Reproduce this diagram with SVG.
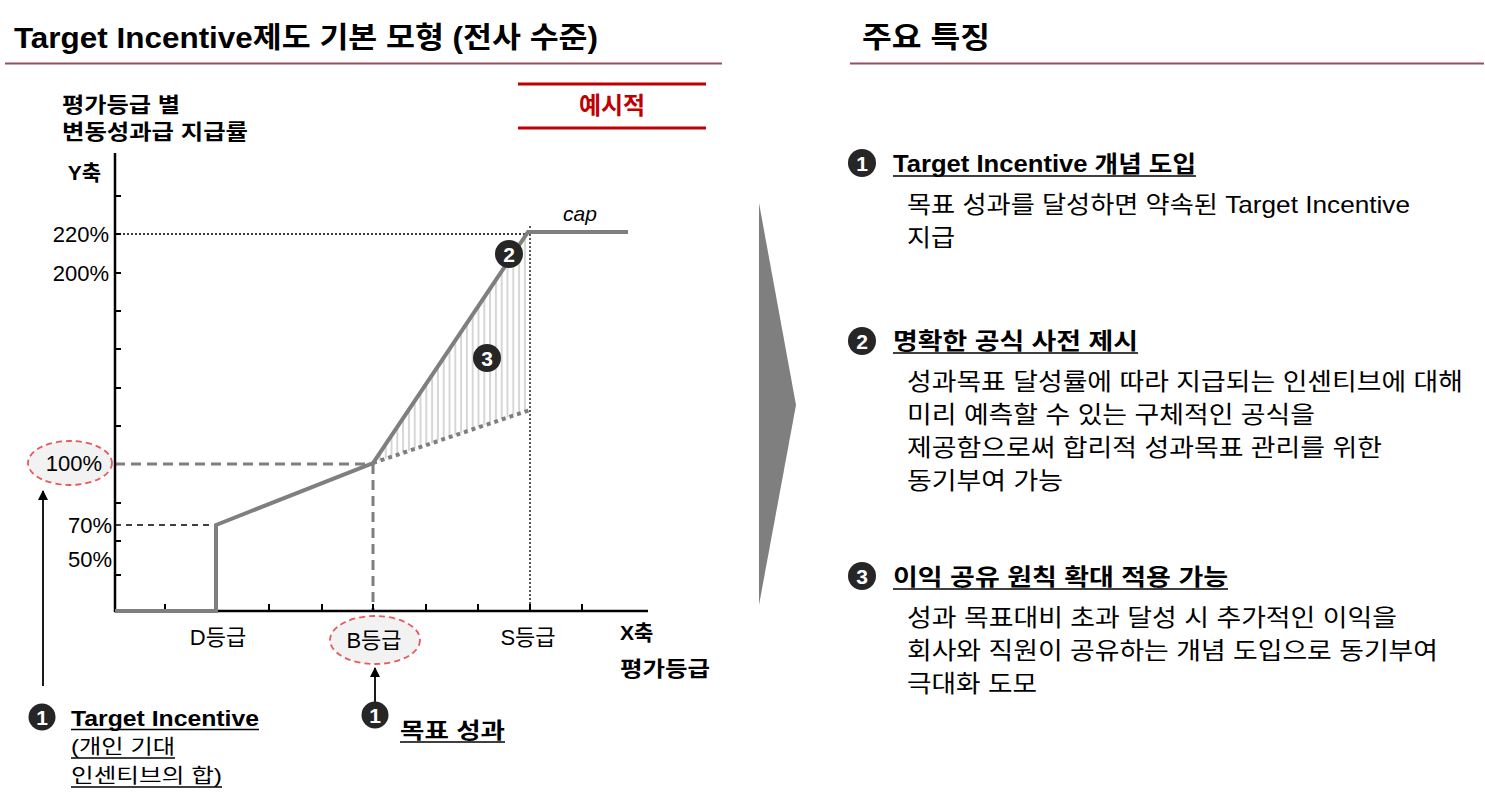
<svg xmlns="http://www.w3.org/2000/svg" width="1485" height="804" viewBox="0 0 1485 804">
<style>
text{font-family:"Liberation Sans","Noto Sans CJK KR",sans-serif;fill:#000}
.b{font-weight:bold}
.ttl{font-size:29px;font-weight:bold}
.lab{font-size:22px}
.hd{font-size:23px;font-weight:bold}
.bd{font-size:24px}
.num{font-size:21px;font-weight:bold;fill:#fff;text-anchor:middle}
.axis{stroke:#000;stroke-width:2.5;fill:none}
.tick{stroke:#000;stroke-width:2}
.curve{stroke:#7f7f7f;stroke-width:4;fill:none;stroke-linejoin:miter}
.ul{stroke:#000;stroke-width:1.5}
</style>
<defs>
<marker id="ah" viewBox="0 0 10 10" refX="9" refY="5" markerWidth="10" markerHeight="10" markerUnits="userSpaceOnUse" orient="auto">
<path d="M0,0 L10,5 L0,10 z" fill="#000"/>
</marker>
<pattern id="hatch" width="5.8" height="10" patternUnits="userSpaceOnUse">
<line x1="2.9" y1="0" x2="2.9" y2="10" stroke="#d6d6d6" stroke-width="2"/>
</pattern>
</defs>

<g id="titles">
<text class="ttl" x="14" y="48" textLength="584" lengthAdjust="spacingAndGlyphs">Target Incentive제도 기본 모형 (전사 수준)</text>
<line x1="5" y1="63.5" x2="722" y2="63.5" stroke="#94505f" stroke-width="2"/>
<text class="ttl" x="862" y="48" textLength="128" lengthAdjust="spacingAndGlyphs">주요 특징</text>
<line x1="850" y1="63.5" x2="1484" y2="63.5" stroke="#94505f" stroke-width="2"/>
</g>

<g id="example-tag">
<line x1="518" y1="84" x2="706" y2="84" stroke="#c00000" stroke-width="3"/>
<line x1="518" y1="128" x2="706" y2="128" stroke="#c00000" stroke-width="3"/>
<text x="612" y="114" text-anchor="middle" style="font-size:24px;font-weight:bold;fill:#c00000">예시적</text>
</g>

<g id="y-title">
<text class="b" x="62" y="112" style="font-size:21px" textLength="118" lengthAdjust="spacingAndGlyphs">평가등급 별</text>
<text class="b" x="62" y="139" style="font-size:21px" textLength="186" lengthAdjust="spacingAndGlyphs">변동성과급 지급률</text>
<text class="b" x="101" y="180" text-anchor="end" style="font-size:21px">Y축</text>
</g>

<g id="hatch-area">
<polygon points="373,463 528,232 530,232 530,410" fill="url(#hatch)"/>
</g>

<g id="guides">
<line x1="115" y1="234" x2="528" y2="234" stroke="#000" stroke-width="1.3" stroke-dasharray="2,2"/>
<line x1="530" y1="226" x2="530" y2="611" stroke="#000" stroke-width="1.3" stroke-dasharray="2,2"/>
<line x1="115" y1="464" x2="373" y2="464" stroke="#7f7f7f" stroke-width="3" stroke-dasharray="10,6"/>
<line x1="373" y1="464" x2="373" y2="611" stroke="#7f7f7f" stroke-width="3" stroke-dasharray="10,6"/>
<line x1="115" y1="525" x2="216" y2="525" stroke="#000" stroke-width="1.6" stroke-dasharray="6,5"/>
<line x1="373" y1="463" x2="530" y2="410" stroke="#7f7f7f" stroke-width="4" stroke-dasharray="4,4"/>
</g>

<g id="axes">
<line class="axis" x1="115" y1="153" x2="115" y2="612"/>
<line class="axis" x1="114" y1="611" x2="648" y2="611"/>
<g class="tick">
<line x1="115" y1="196" x2="121" y2="196"/>
<line x1="115" y1="234" x2="121" y2="234"/>
<line x1="115" y1="273" x2="121" y2="273"/>
<line x1="115" y1="311" x2="121" y2="311"/>
<line x1="115" y1="349" x2="121" y2="349"/>
<line x1="115" y1="388" x2="121" y2="388"/>
<line x1="115" y1="426" x2="121" y2="426"/>
<line x1="115" y1="503" x2="121" y2="503"/>
<line x1="115" y1="541" x2="121" y2="541"/>
<line x1="115" y1="575" x2="121" y2="575"/>
<line x1="165" y1="611" x2="165" y2="604"/>
<line x1="217" y1="611" x2="217" y2="604"/>
<line x1="269" y1="611" x2="269" y2="604"/>
<line x1="322" y1="611" x2="322" y2="604"/>
<line x1="373" y1="611" x2="373" y2="604"/>
<line x1="426" y1="611" x2="426" y2="604"/>
<line x1="478" y1="611" x2="478" y2="604"/>
<line x1="530" y1="611" x2="530" y2="604"/>
<line x1="582" y1="611" x2="582" y2="604"/>
</g>
</g>

<g id="curve">
<polyline class="curve" points="115,611 216,611 216,525 373,463 528,232 628,232"/>
<text x="580" y="221" text-anchor="middle" style="font-size:21px;font-style:italic">cap</text>
</g>

<g id="y-labels">
<text class="lab" x="109" y="242" text-anchor="end">220%</text>
<text class="lab" x="109" y="281" text-anchor="end">200%</text>
<ellipse cx="70" cy="463" rx="42" ry="22" fill="#f2f2f2" stroke="#e8595c" stroke-width="1.8" stroke-dasharray="6,4"/>
<text class="lab" x="102" y="471" text-anchor="end">100%</text>
<text class="lab" x="112" y="533" text-anchor="end">70%</text>
<text class="lab" x="112" y="567" text-anchor="end">50%</text>
</g>

<g id="x-labels">
<text class="lab" x="218" y="645" text-anchor="middle">D등급</text>
<ellipse cx="375" cy="640" rx="45" ry="24" fill="#f2f2f2" stroke="#e8595c" stroke-width="1.8" stroke-dasharray="6,4"/>
<text class="lab" x="374" y="648" text-anchor="middle">B등급</text>
<text class="lab" x="528" y="645" text-anchor="middle">S등급</text>
<text class="b" x="620" y="640" style="font-size:21px">X축</text>
<text class="b" x="620" y="676" style="font-size:21px" textLength="90" lengthAdjust="spacingAndGlyphs">평가등급</text>
</g>

<g id="markers-chart">
<circle cx="509" cy="254" r="14" fill="#262626"/>
<text class="num" x="509" y="261.5">2</text>
<circle cx="487" cy="358" r="14" fill="#262626"/>
<text class="num" x="487" y="365.5">3</text>
</g>

<g id="connectors">
<line x1="43" y1="686" x2="43" y2="491" stroke="#000" stroke-width="1.8" marker-end="url(#ah)"/>
<line x1="375" y1="702" x2="375" y2="668" stroke="#000" stroke-width="1.8" marker-end="url(#ah)"/>
</g>

<g id="note-target-incentive">
<circle cx="42" cy="717" r="13.5" fill="#262626"/>
<text class="num" x="42" y="724.5">1</text>
<text class="b" x="71" y="726" style="font-size:22px" textLength="188" lengthAdjust="spacingAndGlyphs">Target Incentive</text>
<line class="ul" x1="71" y1="729.5" x2="259" y2="729.5"/>
<text x="71" y="754" style="font-size:20px" textLength="104" lengthAdjust="spacingAndGlyphs">(개인 기대</text>
<line class="ul" x1="71" y1="758" x2="175" y2="758"/>
<text x="71" y="783" style="font-size:20px" textLength="151" lengthAdjust="spacingAndGlyphs">인센티브의 합)</text>
<line class="ul" x1="71" y1="787" x2="222" y2="787"/>
</g>

<g id="note-goal">
<circle cx="375" cy="715" r="13.5" fill="#262626"/>
<text class="num" x="375" y="722.5">1</text>
<text class="b" x="400" y="738" style="font-size:22px" textLength="105" lengthAdjust="spacingAndGlyphs">목표 성과</text>
<line class="ul" x1="400" y1="742" x2="505" y2="742"/>
</g>

<g id="divider-arrow">
<polygon points="759,203 796,405 759,605" fill="#7f7f7f"/>
</g>

<g id="feature-1">
<circle cx="862" cy="163" r="14" fill="#262626"/>
<text class="num" x="862" y="170.5">1</text>
<text class="hd" x="893" y="172" textLength="303" lengthAdjust="spacingAndGlyphs">Target Incentive 개념 도입</text>
<line class="ul" x1="893" y1="176" x2="1196" y2="176"/>
<text class="bd" x="907" y="213" textLength="503" lengthAdjust="spacingAndGlyphs">목표 성과를 달성하면 약속된 Target Incentive</text>
<text class="bd" x="907" y="246" textLength="48" lengthAdjust="spacingAndGlyphs">지급</text>
</g>

<g id="feature-2">
<circle cx="862" cy="341" r="14" fill="#262626"/>
<text class="num" x="862" y="348.5">2</text>
<text class="hd" x="893" y="349" textLength="245" lengthAdjust="spacingAndGlyphs">명확한 공식 사전 제시</text>
<line class="ul" x1="893" y1="353" x2="1138" y2="353"/>
<text class="bd" x="907" y="390" textLength="556" lengthAdjust="spacingAndGlyphs">성과목표 달성률에 따라 지급되는 인센티브에 대해</text>
<text class="bd" x="907" y="423" textLength="408" lengthAdjust="spacingAndGlyphs">미리 예측할 수 있는 구체적인 공식을</text>
<text class="bd" x="907" y="456" textLength="475" lengthAdjust="spacingAndGlyphs">제공함으로써 합리적 성과목표 관리를 위한</text>
<text class="bd" x="907" y="489" textLength="156" lengthAdjust="spacingAndGlyphs">동기부여 가능</text>
</g>

<g id="feature-3">
<circle cx="862" cy="576" r="14" fill="#262626"/>
<text class="num" x="862" y="583.5">3</text>
<text class="hd" x="893" y="585" textLength="335" lengthAdjust="spacingAndGlyphs">이익 공유 원칙 확대 적용 가능</text>
<line class="ul" x1="893" y1="589" x2="1228" y2="589"/>
<text class="bd" x="907" y="626" textLength="490" lengthAdjust="spacingAndGlyphs">성과 목표대비 초과 달성 시 추가적인 이익을</text>
<text class="bd" x="907" y="659" textLength="531" lengthAdjust="spacingAndGlyphs">회사와 직원이 공유하는 개념 도입으로 동기부여</text>
<text class="bd" x="907" y="692" textLength="130" lengthAdjust="spacingAndGlyphs">극대화 도모</text>
</g>
</svg>
